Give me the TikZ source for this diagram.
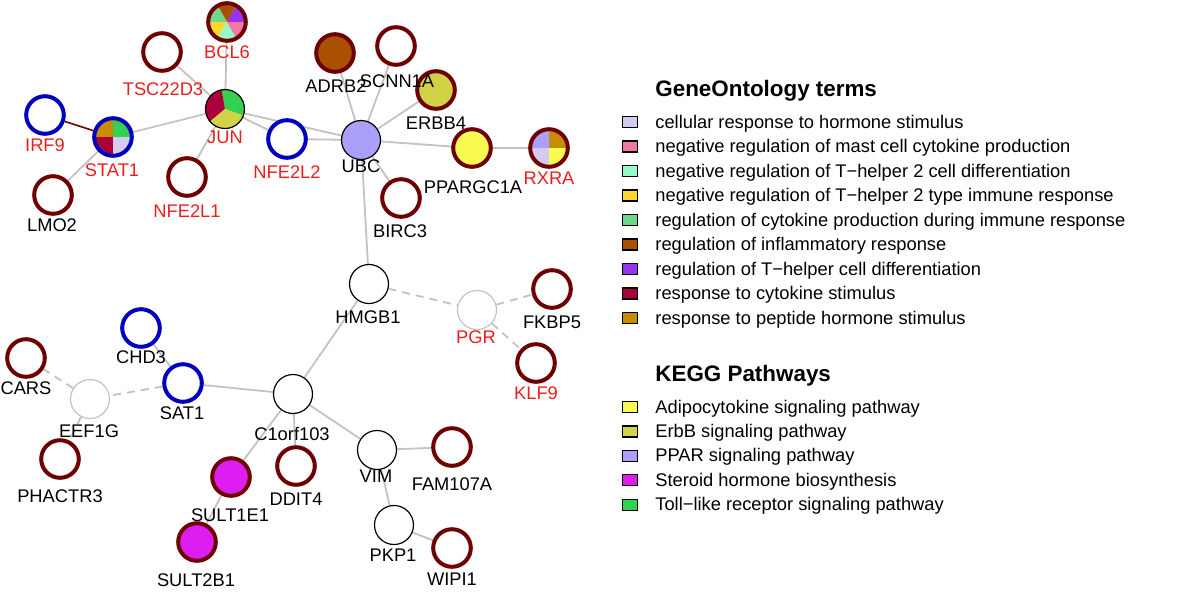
\documentclass[tikz,border=0pt]{standalone}
\usepackage{fontspec}
\setmainfont{Liberation Sans}
\usetikzlibrary{backgrounds}

\definecolor{ringred}{RGB}{110,0,0}
\definecolor{ringblue}{RGB}{0,0,190}
\definecolor{labred}{RGB}{235,30,30}
\definecolor{edgegrey}{RGB}{195,195,195}
\definecolor{goHorm}{RGB}{212,204,238}
\definecolor{goMast}{RGB}{240,120,165}
\definecolor{goTdiff}{RGB}{150,250,200}
\definecolor{goTimm}{RGB}{250,215,50}
\definecolor{goProd}{RGB}{110,215,140}
\definecolor{goInfl}{RGB}{170,80,0}
\definecolor{goTh}{RGB}{150,50,240}
\definecolor{goCyto}{RGB}{170,0,60}
\definecolor{goPept}{RGB}{200,140,0}
\definecolor{kgAdipo}{RGB}{250,250,80}
\definecolor{kgErbB}{RGB}{210,210,70}
\definecolor{kgPPAR}{RGB}{170,160,250}
\definecolor{kgSter}{RGB}{220,30,240}
\definecolor{kgToll}{RGB}{50,210,80}

\newcommand{\labfont}{\fontsize{9.15pt}{11pt}\selectfont}
\newcommand{\headfont}{\fontsize{11.2pt}{13pt}\selectfont\bfseries}

\tikzset{
    gene/.style={circle, minimum size=18.8pt, inner sep=0pt, line width=2pt, fill=white},
    redring/.style={gene, draw=ringred},
    bluering/.style={gene, draw=ringblue},
    plain/.style={circle, minimum size=19.5pt, inner sep=0pt, line width=0.6pt, draw=black, fill=white},
    faint/.style={plain, draw=edgegrey},
    lab/.style={font=\labfont, text=black, inner sep=0pt},
    hit/.style={lab, text=labred},
    link/.style={draw=edgegrey, line width=0.9pt},
    dlink/.style={link, dash pattern=on 4pt off 3pt},
    legbox/.style={draw=black, line width=0.6pt, minimum width=7.5pt, minimum height=5.5pt, inner sep=0pt},
    legtext/.style={font=\labfont, anchor=base west, inner sep=0pt}
}

\begin{document}
\begin{tikzpicture}[x=0.5pt, y=-0.5pt]
    \useasboundingbox (0,0) rectangle (1200,596);

    \node[redring, fill=none] (bcl6) at (227, 22) {};
    \node[redring] (tsc) at (162, 52) {};
    \node[plain, fill=none] (jun) at (225, 109) {};
    \node[bluering] (irf9) at (45, 115) {};
    \node[bluering, fill=none] (stat1) at (113, 137) {};
    \node[redring] (lmo2) at (53, 195) {};
    \node[redring] (nfe2l1) at (187, 177) {};
    \node[bluering] (nfe2l2) at (287, 139) {};
    \node[redring, fill=goInfl] (adrb2) at (335, 53) {};
    \node[redring] (scnn1a) at (396, 46) {};
    \node[redring, fill=kgErbB] (erbb4) at (436, 90) {};
    \node[plain, fill=kgPPAR] (ubc) at (361, 140) {};
    \node[redring, fill=kgAdipo] (ppargc1a) at (472, 148) {};
    \node[redring, fill=none] (rxra) at (549, 148) {};
    \node[redring] (birc3) at (401, 198) {};
    \node[plain] (hmgb1) at (369, 284) {};
    \node[faint] (pgr) at (477, 310) {};
    \node[redring] (fkbp5) at (552, 289) {};
    \node[redring] (klf9) at (536, 363) {};
    \node[plain] (c1orf) at (293, 394) {};
    \node[redring] (ddit4) at (296, 466) {};
    \node[plain] (vim) at (377, 450) {};
    \node[redring] (fam107a) at (452, 447) {};
    \node[plain] (pkp1) at (394, 525) {};
    \node[redring] (wipi1) at (452, 548) {};
    \node[bluering] (chd3) at (141, 328) {};
    \node[bluering] (sat1) at (183, 383) {};
    \node[redring] (cars) at (26, 358) {};
    \node[faint] (eef1g) at (90, 399) {};
    \node[redring] (phactr3) at (60, 459) {};
    \node[redring, fill=kgSter] (sult1e1) at (231, 477) {};
    \node[redring, fill=kgSter] (sult2b1) at (197, 542) {};

    \node[hit] (bcl6-l) at (227, 52) {BCL6};
    \node[hit] (tsc-l) at (163, 89) {TSC22D3};
    \node[hit] (jun-l) at (225, 137) {JUN};
    \node[hit] (irf9-l) at (45, 145) {IRF9};
    \node[hit] (stat1-l) at (112, 170) {STAT1};
    \node[lab] (lmo2-l) at (52, 225) {LMO2};
    \node[hit] (nfe2l1-l) at (187, 211) {NFE2L1};
    \node[hit] (nfe2l2-l) at (287, 172) {NFE2L2};
    \node[lab] (adrb2-l) at (336, 86) {ADRB2};
    \node[lab] (scnn1a-l) at (397, 81) {SCNN1A};
    \node[lab] (erbb4-l) at (436, 123) {ERBB4};
    \node[lab] (ubc-l) at (361, 166) {UBC};
    \node[lab] (ppargc1a-l) at (473, 187) {PPARGC1A};
    \node[hit] (rxra-l) at (549, 178) {RXRA};
    \node[lab] (birc3-l) at (400, 231) {BIRC3};
    \node[lab] (hmgb1-l) at (368, 317) {HMGB1};
    \node[hit] (pgr-l) at (476, 337) {PGR};
    \node[lab] (fkbp5-l) at (552, 322) {FKBP5};
    \node[hit] (klf9-l) at (536, 393) {KLF9};
    \node[lab] (c1orf-l) at (292, 434) {C1orf103};
    \node[lab] (ddit4-l) at (296, 499) {DDIT4};
    \node[lab] (vim-l) at (376, 476) {VIM};
    \node[lab] (fam107a-l) at (452, 484) {FAM107A};
    \node[lab] (pkp1-l) at (393, 555) {PKP1};
    \node[lab] (wipi1-l) at (452, 579) {WIPI1};
    \node[lab] (chd3-l) at (141, 357) {CHD3};
    \node[lab] (sat1-l) at (182, 413) {SAT1};
    \node[lab] (cars-l) at (26, 388) {CARS};
    \node[lab] (eef1g-l) at (89, 431) {EEF1G};
    \node[lab] (phactr3-l) at (60, 496) {PHACTR3};
    \node[lab] (sult1e1-l) at (230, 515) {SULT1E1};
    \node[lab] (sult2b1-l) at (196, 580) {SULT2B1};

    \begin{scope}[on background layer]
        \fill[white] (0,0) rectangle (1200,596);
        \foreach \a/\b in {bcl6/jun, tsc/jun, jun/stat1, jun/nfe2l1, jun/nfe2l2, jun/ubc,
                           stat1/lmo2, nfe2l2/ubc, ubc/adrb2, ubc/scnn1a, ubc/erbb4,
                           ubc/ppargc1a, ppargc1a/rxra, ubc/birc3, ubc/hmgb1, hmgb1/c1orf,
                           c1orf/sat1, c1orf/vim, c1orf/ddit4, c1orf/sult1e1, sult1e1/sult2b1,
                           sat1/chd3, vim/fam107a, vim/pkp1, pkp1/wipi1} {
            \draw[link] (\a) -- (\b);
        }
        \foreach \a/\b in {hmgb1/pgr, pgr/fkbp5, pgr/klf9, sat1/eef1g, eef1g/cars, eef1g/phactr3} {
            \draw[dlink] (\a) -- (\b);
        }
        \draw[draw=ringred, line width=0.8pt] (irf9) -- (stat1);

        \foreach \s/\e/\c in {0/60/goTh, 60/120/goInfl, 120/180/goProd,
                              180/240/goTimm, 240/300/goTdiff, 300/360/goMast} {
            \fill[\c] (bcl6.center) -- ++(\s:9.4pt) arc[start angle=\s, end angle=\e, radius=9.4pt] -- cycle;
        }
        \foreach \s/\e/\c in {-20/100/kgToll, 100/220/goCyto, 220/340/kgErbB} {
            \fill[\c] (jun.center) -- ++(\s:9.75pt) arc[start angle=\s, end angle=\e, radius=9.75pt] -- cycle;
        }
        \foreach \s/\e/\c in {0/90/kgToll, 90/180/goPept, 180/270/goCyto, 270/360/goHorm} {
            \fill[\c] (stat1.center) -- ++(\s:9.4pt) arc[start angle=\s, end angle=\e, radius=9.4pt] -- cycle;
        }
        \foreach \s/\e/\c in {0/90/goPept, 90/180/kgPPAR, 180/270/goHorm, 270/360/kgAdipo} {
            \fill[\c] (rxra.center) -- ++(\s:9.4pt) arc[start angle=\s, end angle=\e, radius=9.4pt] -- cycle;
        }
    \end{scope}

    \node[font=\headfont, anchor=base west, inner sep=0pt] (go-head) at (655, 96) {GeneOntology terms};
    \foreach \c/\t [count=\i from 0] in {goHorm/cellular response to hormone stimulus,
                                         goMast/negative regulation of mast cell cytokine production,
                                         goTdiff/negative regulation of T−helper 2 cell differentiation,
                                         goTimm/negative regulation of T−helper 2 type immune response,
                                         goProd/regulation of cytokine production during immune response,
                                         goInfl/regulation of inflammatory response,
                                         goTh/regulation of T−helper cell differentiation,
                                         goCyto/response to cytokine stimulus,
                                         goPept/response to peptide hormone stimulus} {
        \node[legbox, fill=\c] (go-box\i) at (630, {122+24.5*\i}) {};
        \node[legtext] (go-text\i) at (655, {128+24.5*\i}) {\t};
    }

    \node[font=\headfont, anchor=base west, inner sep=0pt] (kegg-head) at (655, 381) {KEGG Pathways};
    \foreach \c/\t [count=\i from 0] in {kgAdipo/Adipocytokine signaling pathway,
                                         kgErbB/ErbB signaling pathway,
                                         kgPPAR/PPAR signaling pathway,
                                         kgSter/Steroid hormone biosynthesis,
                                         kgToll/Toll−like receptor signaling pathway} {
        \node[legbox, fill=\c] (kegg-box\i) at (630, {407+24.4*\i}) {};
        \node[legtext] (kegg-text\i) at (655, {413+24.4*\i}) {\t};
    }
\end{tikzpicture}
\end{document}
